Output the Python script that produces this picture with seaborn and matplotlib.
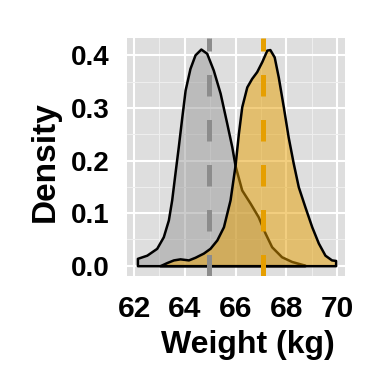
import matplotlib
matplotlib.use("Agg")
import matplotlib.pyplot as plt
from matplotlib.colors import to_rgba
from matplotlib.ticker import MultipleLocator
import pandas as pd
import seaborn as sns

# ------------ data ------------
grey_weight = [62.13, 62.50, 62.89, 63.15, 63.35, 63.48, 63.61, 63.74, 63.88, 64.01,
               64.20, 64.40, 64.63, 64.86, 65.12, 65.39, 65.65, 65.85, 65.98, 66.24,
               66.57, 66.89, 67.16, 67.42, 67.81, 68.21, 68.73]
grey_density = [0.014, 0.020, 0.033, 0.055, 0.087, 0.125, 0.176, 0.226, 0.283, 0.334,
                0.375, 0.401, 0.412, 0.404, 0.372, 0.328, 0.271, 0.226, 0.190, 0.144,
                0.119, 0.093, 0.062, 0.036, 0.017, 0.008, 0.001]

orange_weight = [63.02, 63.29, 63.55, 63.81, 64.14, 64.40, 64.73, 64.99, 65.26, 65.52,
                 65.78, 65.98, 66.11, 66.24, 66.44, 66.63, 66.83, 67.03, 67.23, 67.35,
                 67.52, 67.68, 67.88, 68.07, 68.27, 68.47, 68.73, 69.00, 69.26, 69.52,
                 69.78, 69.94]
orange_density = [0.000, 0.006, 0.011, 0.013, 0.011, 0.016, 0.024, 0.033, 0.049, 0.074,
                  0.125, 0.192, 0.252, 0.302, 0.340, 0.356, 0.369, 0.388, 0.410, 0.411,
                  0.397, 0.359, 0.302, 0.245, 0.195, 0.150, 0.112, 0.074, 0.043, 0.020,
                  0.011, 0.010]

group_means = [64.95, 67.09]
group_colors = ["#999999", "#E69F00"]
mean_line_colors = ["#8C8C8C", "#E69F00"]
x_ticks = [62, 64, 66, 68, 70]
y_ticks = [0.0, 0.1, 0.2, 0.3, 0.4]

curves = [
    pd.DataFrame({"weight": grey_weight, "density": grey_density}),
    pd.DataFrame({"weight": orange_weight, "density": orange_density}),
]

# ------------ style ------------
sns.set_theme(style="darkgrid")
plt.rcParams["font.family"] = ["Liberation Sans", "DejaVu Sans"]
plt.rcParams["font.weight"] = "bold"
plt.rcParams["text.color"] = "black"
plt.rcParams["axes.labelcolor"] = "black"

fig = plt.figure(figsize=(3.84, 3.84), dpi=100)
ax = fig.add_axes([127 / 384, 108 / 384, 218 / 384, 238 / 384])
ax.set_facecolor("#DEDEDE")

# ------------ densities ------------
for df, col in zip(curves, group_colors):
    ax.fill_between(df["weight"], df["density"], 0,
                    facecolor=to_rgba(col, 0.5), edgecolor="black",
                    linewidth=1.8, joinstyle="round", zorder=2)

# ------------ mean lines ------------
for m, col in zip(group_means, mean_line_colors):
    ax.axvline(m, color=col, linewidth=3.6, linestyle=(0, (4.3, 4.7)),
               dash_capstyle="butt", zorder=3)

# ------------ axes ------------
ax.set_xlim(61.72, 70.31)
ax.set_ylim(-0.0196, 0.433)
ax.set_xticks(x_ticks)
ax.set_yticks(y_ticks)
ax.set_yticklabels([f"{v:.1f}" for v in y_ticks])
ax.xaxis.set_minor_locator(MultipleLocator(1))
ax.yaxis.set_minor_locator(MultipleLocator(0.05))

ax.grid(which="major", color="white", linewidth=1.5)
ax.grid(which="minor", color="#EEEEEE", linewidth=0.8)
ax.set_axisbelow(True)
for s in ax.spines.values():
    s.set_visible(False)

ax.tick_params(axis="both", which="major", length=7.5, width=1.5,
               color="#7F7F7F", labelcolor="black")
ax.tick_params(axis="both", which="minor", length=0)
ax.tick_params(axis="x", labelsize=21.5, pad=6.5)
ax.tick_params(axis="y", labelsize=20, pad=5)
for lab in ax.get_xticklabels() + ax.get_yticklabels():
    lab.set_fontweight("bold")

ax.set_xlabel("Weight (kg)", fontsize=23, fontweight="bold", labelpad=5, x=0.555)
ax.set_ylabel("Density", fontsize=24, fontweight="bold", labelpad=7, y=0.48)

fig.savefig("out.png", dpi=100)
